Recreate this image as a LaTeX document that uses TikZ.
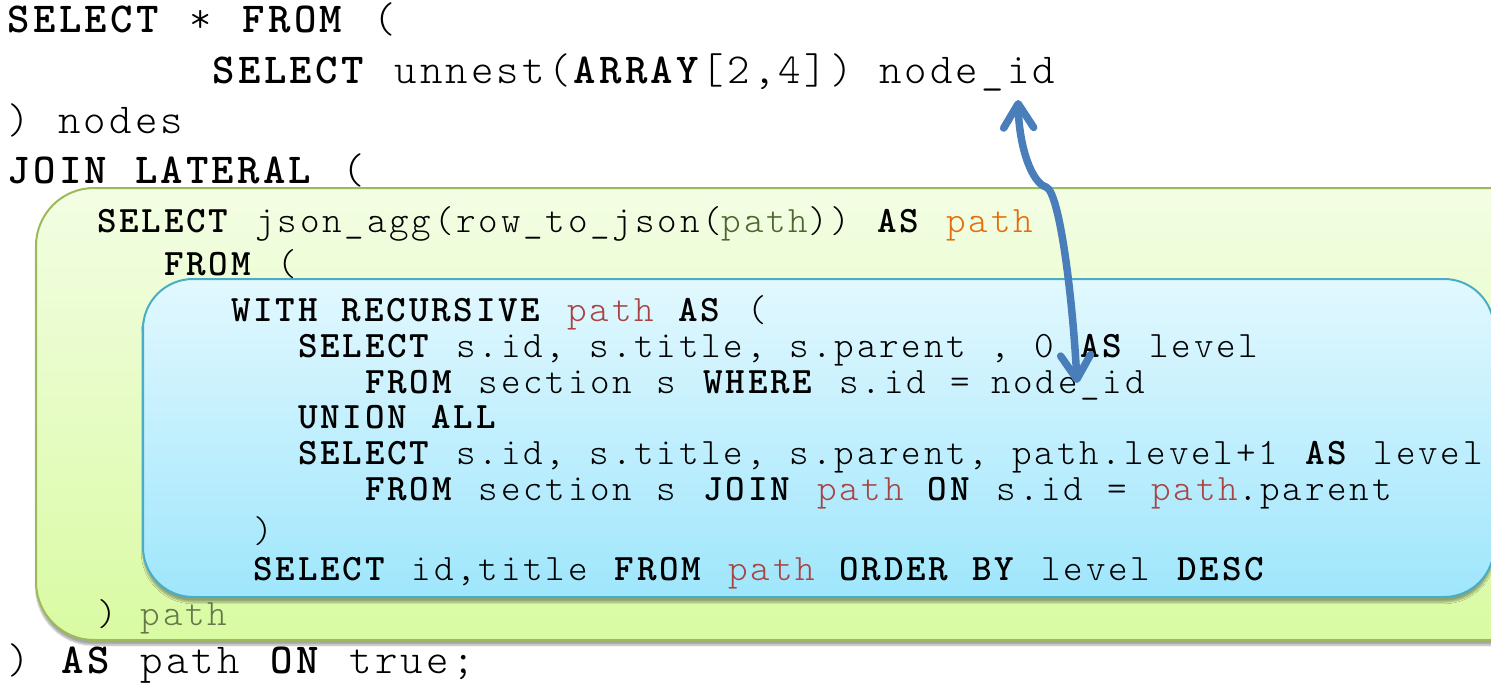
\documentclass[tikz,border=0pt]{standalone}
\usepackage{fontspec}
\setmonofont{lmmonolt10-regular.otf}[BoldFont=lmmonolt10-bold.otf, LetterSpace=7.5, WordSpace=1.085]
\usetikzlibrary{arrows.meta,shadows.blur,calc}

\definecolor{boxgreenline}{HTML}{9BBB59}
\definecolor{boxgreentop}{HTML}{F3FDE4}
\definecolor{boxgreenbot}{HTML}{D9FBA2}
\definecolor{boxblueline}{HTML}{4BACC6}
\definecolor{boxbluetop}{HTML}{E2F8FE}
\definecolor{boxbluebot}{HTML}{9FE6FC}
\definecolor{linkblue}{HTML}{4A7EBB}
\definecolor{aliasolive}{HTML}{50642F}
\definecolor{aliasorange}{HTML}{E46C0A}
\definecolor{ctered}{HTML}{A94442}
\definecolor{subolive}{HTML}{66784A}

% keyword and size helpers
\newcommand\kw[1]{\textbf{#1}}
\newcommand\sqlbig{\fontsize{42.7}{50}\selectfont}
\newcommand\sqlsmall{\fontsize{37.25}{42}\selectfont}

\begin{document}
\begin{tikzpicture}[
  x=1pt, y=-1pt,
  bigline/.style={anchor=base west, inner sep=0pt, outer sep=0pt, font=\ttfamily\sqlbig},
  smallline/.style={anchor=base west, inner sep=0pt, outer sep=0pt, font=\ttfamily\sqlsmall},
  greenbox/.style={draw=boxgreenline, line width=2pt, rounded corners=58pt,
    top color=boxgreentop, bottom color=boxgreenbot,
    blur shadow={shadow xshift=0pt, shadow yshift=-5pt, shadow blur steps=8, shadow opacity=35}},
  bluebox/.style={draw=boxblueline, line width=2pt, rounded corners=50pt,
    top color=boxbluetop, bottom color=boxbluebot,
    blur shadow={shadow xshift=0pt, shadow yshift=-5pt, shadow blur steps=8, shadow opacity=35}},
  link/.style={draw=linkblue, line width=7.5pt, line cap=round,
    {Straight Barb[round,length=24pt,width=30pt]}-{Straight Barb[round,length=24pt,width=30pt]}}
]
\useasboundingbox (0,0) rectangle (1491,683);
\def\bw{25.62}
\def\cw{22.35}

% nested subquery panels
\begin{scope}
  \clip (0,0) rectangle (1491,683);
  \path[greenbox] (36,188) rectangle (1620,640);
  \path[bluebox] (143,279) rectangle (1494,597);
\end{scope}

% outer query
\node[bigline] (a1) at (8,32) {\kw{SELECT} * \kw{FROM} (};
\node[bigline] (a2) at (8+8*\bw,83) {\kw{SELECT} unnest(\kw{ARRAY}[2,4])};
\node[bigline] (nidA) at (8+34*\bw,83) {node\_id};
\node[bigline] (a3) at (8,133) {) nodes};
\node[bigline] (a4) at (8,183) {\kw{JOIN LATERAL} (};
\node[bigline] (a5) at (8,673) {) \kw{AS} path \kw{ON} true;};

% lateral subquery
\node[smallline] (b1) at (97,232) {\kw{SELECT} json\_agg(row\_to\_json(\textcolor{aliasolive}{path})) \kw{AS} \textcolor{aliasorange}{path}};
\node[smallline] (b2) at (97+3*\cw,275) {\kw{FROM} (};
\node[smallline] (b3) at (97+6*\cw,321) {\kw{WITH RECURSIVE} \textcolor{ctered}{path} \kw{AS} (};
\node[smallline] (b4) at (97+9*\cw,357) {\kw{SELECT} s.id, s.title, s.parent , 0 \kw{AS} level};
\node[smallline] (b5) at (97+12*\cw,393) {\kw{FROM} section s \kw{WHERE} s.id =};
\node[smallline] (nidB) at (97+40*\cw,393) {node\_id};
\node[smallline] (b6) at (97+9*\cw,428) {\kw{UNION ALL}};
\node[smallline] (b7) at (97+9*\cw,464) {\kw{SELECT} s.id, s.title, s.parent, path.level+1 \kw{AS} level};
\node[smallline] (b8) at (97+12*\cw,500) {\kw{FROM} section s \kw{JOIN} \textcolor{ctered}{path} \kw{ON} s.id = \textcolor{ctered}{path}.parent};
\node[smallline] (b9) at (97+7*\cw,542) {)};
\node[smallline] (b10) at (97+7*\cw,580) {\kw{SELECT} id,title \kw{FROM} \textcolor{ctered}{path} \kw{ORDER BY} level \kw{DESC}};
\node[smallline] (b11) at (97,625) {) \textcolor{subolive}{path}};

% link between the two node_id occurrences
\coordinate (tipA) at ($(nidA.base west)+(139,17)$);
\coordinate (tipB) at ($(nidB.base west)+(86,-10)$);
\coordinate (bend) at ($(tipA)+(28,87)$);
\draw[link] (tipA) .. controls +(1,48) and +(-14,-4) .. (bend)
            .. controls +(14,5) and +(-4,-80) .. (tipB);
\end{tikzpicture}
\end{document}
